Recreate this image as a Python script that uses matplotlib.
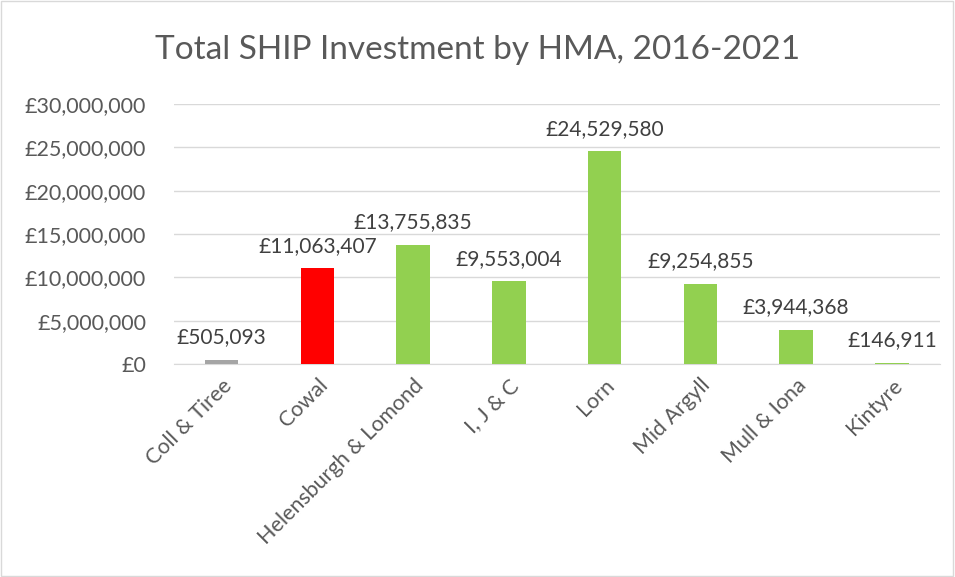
#Total SHIP investment by HMA bar chart

#import modules
import matplotlib.pyplot as plt
from matplotlib.ticker import FuncFormatter

plt.rcParams['font.family'] = ['Lato', 'DejaVu Sans']

#Data
areas = ["Coll & Tiree", "Cowal", "Helensburgh & Lomond", "I, J & C", "Lorn",
         "Mid Argyll", "Mull & Iona", "Kintyre"]
investment = [505093, 11063407, 13755835, 9553004, 24529580, 9254855, 3944368, 146911]
colours = ["#A5A5A5", "#FF0000", "#92D050", "#92D050", "#92D050", "#92D050", "#92D050", "#92D050"]

fig = plt.figure(figsize=(9.55, 5.77), dpi=100)
ax = fig.add_axes([0.182, 0.369, 0.802, 0.451])

x = list(range(len(areas)))
ax.bar(x, investment, width=0.35, color=colours, zorder=3)

#data labels
for i, v in enumerate(investment):
    ax.annotate(f"£{v:,}", (i, v), xytext=(0, 9), textcoords="offset points",
                ha="center", va="bottom", fontsize=15, color="#404040")

ax.set_xlim(-0.5, len(areas) - 0.5)
ax.set_ylim(0, 30000000)
ax.set_yticks(range(0, 30000001, 5000000))
ax.yaxis.set_major_formatter(FuncFormatter(lambda v, p: f"£{int(v):,}"))
ax.set_xticks(x)
ax.set_xticklabels(areas, rotation=45, ha="right", rotation_mode="anchor")
ax.tick_params(axis="both", length=0, labelsize=15.5, colors="#595959", pad=8)
ax.tick_params(axis="y", pad=20)

ax.grid(axis="y", color="#D9D9D9", linewidth=1, zorder=0)
for s in ["top", "right", "left"]:
    ax.spines[s].set_visible(False)
ax.spines["bottom"].set_color("#D9D9D9")

fig.suptitle("Total SHIP Investment by HMA, 2016-2021", y=0.94, fontsize=24, color="#595959")

#light border round the chart
fig.patches.append(plt.Rectangle((0.001, 0.001), 0.997, 0.997, transform=fig.transFigure,
                                 fill=False, edgecolor="#D9D9D9", linewidth=1))

fig.savefig("out.png", dpi=100)
